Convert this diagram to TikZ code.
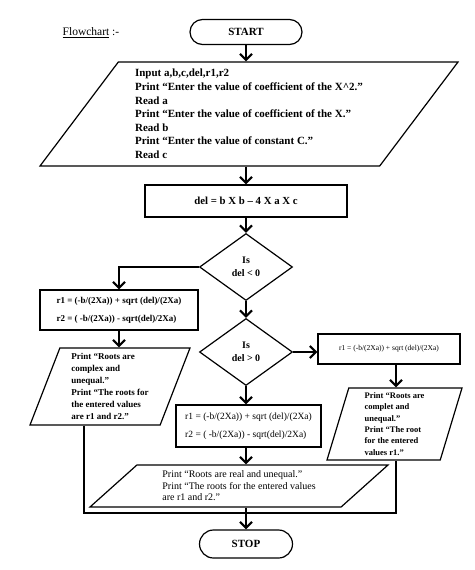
\documentclass[tikz,border=0pt]{standalone}
\usepackage{fontspec}
\setmainfont{Liberation Serif}
\usetikzlibrary{shapes.geometric,arrows.meta}
\begin{document}
\begin{tikzpicture}[x=1pt,y=-1pt,
    term/.style={draw,line width=1.2pt,rounded corners=12.5pt,minimum width=112pt,minimum height=25pt,font=\fontsize{11}{13}\selectfont\bfseries},
    proc/.style={draw,line width=1.2pt,inner sep=2pt},
    io/.style={draw,line width=1.2pt,trapezium,trapezium stretches body,inner sep=2pt,align=left},
    dec/.style={draw,line width=1.2pt,diamond,inner sep=0pt,minimum width=93pt,minimum height=67pt,align=center,font=\fontsize{10}{13}\selectfont\bfseries},
    arr/.style={line width=2.2pt,-{Straight Barb[length=6pt,width=12pt]}}]
  \useasboundingbox (0,0) rectangle (474,570);
  \node[font=\fontsize{11.5}{13}\selectfont] (title) at (91,33) {\underline{Flowchart} :-};
  \node[term] (start) at (246,32) {START};
  \node[io,trapezium left angle=50,trapezium right angle=130,minimum width=418pt,minimum height=104pt,font=\fontsize{11}{13.6}\selectfont\bfseries] (input) at (249,114) {Input a,b,c,del,r1,r2\\
    Print “Enter the value of coefficient of the X\textasciicircum2.”\\
    Read a\\
    Print “Enter the value of coefficient of the X.”\\
    Read b\\
    Print “Enter the value of constant C.”\\
    Read c};
  \node[proc,minimum width=202pt,minimum height=32pt,font=\fontsize{10.8}{12}\selectfont\bfseries] (del) at (246,201) {del = b X b – 4 X a X c};
  \node[dec] (d1) at (246,267) {Is\\del < 0};
  \node[proc,minimum width=158pt,minimum height=40pt,align=left,font=\fontsize{9}{18}\selectfont\bfseries] (rL) at (119,310) {r1 = (-b/(2Xa)) + sqrt (del)/(2Xa)\\
    r2 = ( -b/(2Xa)) - sqrt(del)/2Xa)};
  \node[io,trapezium left angle=67,trapezium right angle=113,minimum width=160pt,minimum height=77pt,font=\fontsize{9}{12}\selectfont\bfseries] (pL) at (110,386.5) {Print “Roots are\\
    complex and\\
    unequal.”\\
    Print “The roots for\\
    the entered values\\
    are r1 and r2.”};
  \node[dec] (d2) at (246,352) {Is\\del > 0};
  \node[proc,minimum width=142pt,minimum height=30pt,font=\fontsize{7.5}{9}\selectfont] (rR) at (389,349) {r1 = (-b/(2Xa)) + sqrt (del)/(2Xa)};
  \node[io,trapezium left angle=72,trapezium right angle=108,minimum width=135pt,minimum height=72pt,font=\fontsize{8.5}{11.4}\selectfont\bfseries] (pR) at (394.5,424) {Print “Roots are\\
    complet and\\
    unequal.”\\
    Print “The root\\
    for the entered\\
    values r1.”};
  \node[proc,minimum width=145pt,minimum height=42pt,align=left,font=\fontsize{9.5}{18}\selectfont] (rM) at (248.5,426) {r1 = (-b/(2Xa)) + sqrt (del)/(2Xa)\\
    r2 = ( -b/(2Xa)) - sqrt(del)/2Xa)};
  \node[io,trapezium left angle=36,trapezium right angle=144,minimum width=298pt,minimum height=42pt,font=\fontsize{10}{11.5}\selectfont] (pB) at (239,486) {Print “Roots are real and unequal.”\\
    Print “The roots for the entered values\\
    are r1 and r2.”};
  \node[term,minimum width=93pt,minimum height=28pt,rounded corners=14pt] (stop) at (246,544) {STOP};
  \coordinate (jl) at (84,513);
  \coordinate (jr) at (396,513);
  \draw[line width=2.4pt] (pL.south -| jl) -- (jl) -- (jr) -- (pR.south -| jr);
  \draw[arr] (start) -- (start.south |- input.north);
  \draw[arr] (start.south |- input.south) -- (del.north);
  \draw[arr] (del) -- (d1);
  \draw[arr] (d1.west) -| (rL.north);
  \draw[arr] (rL) -- (rL.south |- pL.north);
  \draw[arr] (d1) -- (d2);
  \draw[arr] (d2.east) -- (d2.east -| rR.west);
  \draw[arr] (jr |- rR.south) -- (jr |- pR.north);
  \draw[arr] (d2.south) -- (d2.south |- rM.north);
  \draw[arr] (d2.south |- rM.south) -- (d2.south |- pB.north);
  \draw[arr] (stop.north |- pB.south) -- (stop.north);
\end{tikzpicture}
\end{document}
